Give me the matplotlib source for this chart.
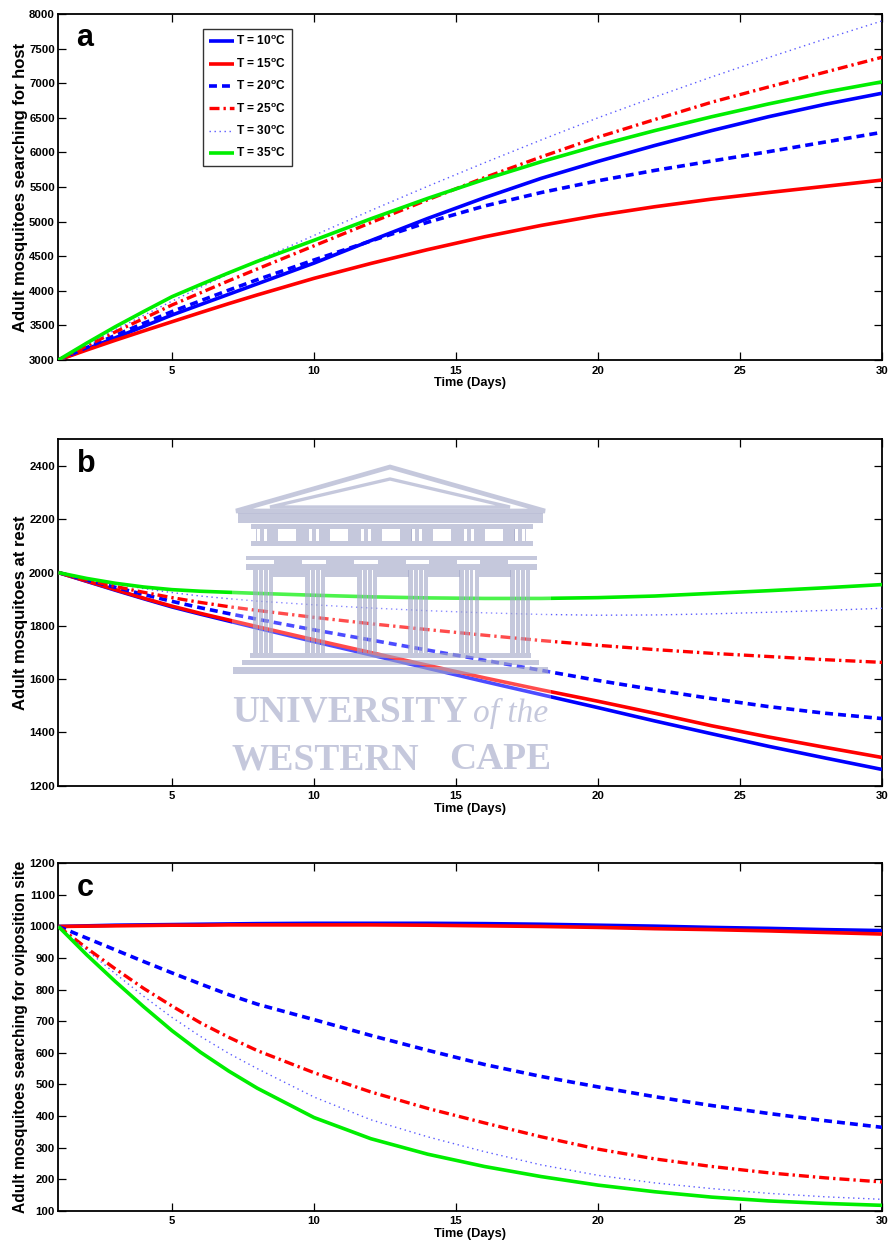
import matplotlib
matplotlib.use("Agg")
import matplotlib.pyplot as plt
from matplotlib import font_manager as fm
from matplotlib.patches import Polygon, Rectangle
import numpy as np

# ---------------------------------------------------------------- data
days = [1, 2, 3, 4, 5, 6, 7, 8, 10, 12, 14, 16, 18, 20, 22, 24, 26, 28, 30]
temps = ["10", "15", "20", "25", "30", "35"]

# (a) adult mosquitoes searching for host
host_T10 = [3000, 3160, 3320, 3485, 3650, 3800, 3950, 4100, 4400, 4725, 5045, 5345, 5625, 5870, 6100, 6315, 6515, 6695, 6855]
host_T15 = [3000, 3145, 3285, 3420, 3553, 3685, 3815, 3940, 4180, 4395, 4595, 4780, 4945, 5090, 5215, 5325, 5420, 5510, 5600]
host_T20 = [3000, 3180, 3355, 3530, 3700, 3855, 4010, 4160, 4445, 4720, 4990, 5225, 5420, 5590, 5740, 5875, 6010, 6150, 6290]
host_T25 = [3000, 3205, 3405, 3600, 3795, 3970, 4145, 4315, 4650, 4985, 5315, 5635, 5935, 6220, 6475, 6725, 6945, 7160, 7375]
host_T30 = [3000, 3220, 3435, 3645, 3850, 4050, 4245, 4435, 4800, 5160, 5510, 5850, 6180, 6500, 6800, 7090, 7370, 7640, 7900]
host_T35 = [3000, 3245, 3480, 3700, 3915, 4090, 4260, 4425, 4730, 5040, 5335, 5610, 5865, 6100, 6315, 6515, 6700, 6870, 7020]

# (b) adult mosquitoes at rest
rest_T10 = [2000, 1967, 1934, 1902, 1871, 1844, 1818, 1792, 1741, 1691, 1641, 1591, 1542, 1493, 1443, 1395, 1348, 1304, 1261]
rest_T15 = [2000, 1968, 1936, 1904, 1874, 1847, 1822, 1797, 1748, 1700, 1652, 1605, 1560, 1517, 1472, 1425, 1383, 1344, 1306]
rest_T20 = [2000, 1972, 1945, 1918, 1892, 1868, 1846, 1825, 1785, 1747, 1709, 1671, 1633, 1595, 1560, 1527, 1497, 1472, 1452]
rest_T25 = [2000, 1973, 1948, 1926, 1906, 1888, 1872, 1858, 1832, 1808, 1786, 1765, 1745, 1727, 1711, 1697, 1685, 1673, 1663]
rest_T30 = [2000, 1978, 1958, 1940, 1925, 1912, 1902, 1893, 1879, 1867, 1857, 1849, 1843, 1840, 1841, 1845, 1851, 1858, 1866]
rest_T35 = [2000, 1978, 1960, 1946, 1936, 1930, 1926, 1922, 1915, 1909, 1905, 1903, 1903, 1906, 1912, 1922, 1932, 1943, 1955]

# (c) adult mosquitoes searching for oviposition site
ovi_T10 = [1000, 1002, 1004, 1005, 1006, 1007, 1008, 1009, 1010, 1010, 1010, 1009, 1007, 1004, 1001, 997, 994, 990, 987]
ovi_T15 = [1000, 1001, 1002, 1003, 1004, 1004, 1005, 1005, 1005, 1005, 1004, 1002, 1000, 997, 993, 990, 986, 981, 976]
ovi_T20 = [1000, 963, 926, 889, 853, 818, 784, 754, 705, 655, 608, 563, 525, 492, 461, 433, 408, 385, 364]
ovi_T25 = [1000, 931, 866, 804, 748, 695, 649, 607, 537, 476, 424, 378, 334, 295, 264, 240, 220, 204, 191]
ovi_T30 = [1000, 925, 851, 779, 712, 652, 598, 550, 460, 388, 334, 287, 245, 212, 188, 170, 155, 144, 136]
ovi_T35 = [1000, 910, 826, 746, 670, 602, 542, 488, 395, 328, 279, 240, 208, 181, 160, 143, 131, 123, 117]

x_ticks = [5, 10, 15, 20, 25, 30]

# ---------------------------------------------------------------- style
installed = {f.name for f in fm.fontManager.ttflist}
SANS = "Liberation Sans Narrow" if "Liberation Sans Narrow" in installed else "Liberation Sans"
narrow = SANS == "Liberation Sans Narrow"

plt.rcParams["font.family"] = [SANS, "DejaVu Sans"]
plt.rcParams["font.weight"] = "bold"
plt.rcParams["mathtext.fontset"] = "custom"
plt.rcParams["mathtext.bf"] = SANS + ":bold"
plt.rcParams["mathtext.rm"] = SANS + ":bold"

BLUE = "#0000ff"
RED = "#ff0000"
GREEN = "#00ee00"
LIGHTBLUE = "#5a5aff"

styles = {
    "10": dict(color=BLUE, lw=2.6, ls="-"),
    "15": dict(color=RED, lw=2.6, ls="-"),
    "20": dict(color=BLUE, lw=2.6, ls=(0, (2.2, 1.4))),
    "25": dict(color=RED, lw=2.4, ls=(0, (3.0, 1.2, 0.7, 1.2))),
    "30": dict(color=LIGHTBLUE, lw=1.0, ls=(0, (1.0, 2.6))),
    "35": dict(color=GREEN, lw=2.6, ls="-"),
}

W, H = 890, 1252
fig = plt.figure(figsize=(W / 100, H / 100), dpi=100)

left = 58.4 / W
width = (882 - 58.4) / W


def ax_rect(top_px, bottom_px):
    return [left, 1 - bottom_px / H, width, (bottom_px - top_px) / H]


ax_a = fig.add_axes(ax_rect(14, 360))
ax_b = fig.add_axes(ax_rect(439.4, 785.7))
ax_c = fig.add_axes(ax_rect(863.3, 1210.7))

tick_fs = 9.2 if narrow else 8.2
xlab_fs = 10.2 if narrow else 9.2

panels = [
    (ax_a, [host_T10, host_T15, host_T20, host_T25, host_T30, host_T35],
     (3000, 8000), np.arange(3000, 8001, 500), "Adult mosquitoes searching for host", "a", 12.0),
    (ax_b, [rest_T10, rest_T15, rest_T20, rest_T25, rest_T30, rest_T35],
     (1200, 2500), np.arange(1200, 2401, 200), "Adult mosquitoes at rest", "b", 12.0),
    (ax_c, [ovi_T10, ovi_T15, ovi_T20, ovi_T25, ovi_T30, ovi_T35],
     (100, 1200), np.arange(100, 1201, 100), "Adult mosquitoes searching for oviposition site", "c", 11.2),
]

for ax, series, ylim, yticks, ylabel, letter, yl_fs in panels:
    for t, vals in zip(temps, series):
        ax.plot(days, vals, label=r"T = %s$^{\mathbf{o}}$C" % t, zorder=3,
                solid_capstyle="butt", dash_capstyle="butt", **styles[t])
    ax.set_xlim(1, 30)
    ax.set_ylim(*ylim)
    ax.set_xticks(x_ticks)
    ax.set_yticks(yticks)
    ax.tick_params(direction="in", length=6, width=0.9, top=True, right=True,
                   labelsize=tick_fs)
    ax.tick_params(axis="y", pad=2.5)
    ax.tick_params(axis="x", pad=4)
    for lab in ax.get_xticklabels() + ax.get_yticklabels():
        lab.set_fontweight("bold")
    for sp in ax.spines.values():
        sp.set_linewidth(1.3)
    ax.set_xlabel("Time (Days)", fontsize=xlab_fs, fontweight="bold", labelpad=1)
    ax.set_ylabel(ylabel, fontsize=yl_fs, fontweight="bold",
                  family=["Liberation Sans", "DejaVu Sans"])
    ax.yaxis.set_label_coords(-0.037, 0.5)
    ax.text(0.022, 0.93, letter, transform=ax.transAxes, fontsize=22,
            fontweight="bold", va="center", ha="left",
            family=["Liberation Sans", "DejaVu Sans"])

leg = ax_a.legend(loc="upper left", bbox_to_anchor=(0.1755, 0.958),
                  fontsize=9.6 if narrow else 8.6,
                  handlelength=2.1, handletextpad=0.2, labelspacing=0.72,
                  borderpad=0.5, frameon=True, fancybox=False, borderaxespad=0)
leg.get_frame().set_edgecolor("black")
leg.get_frame().set_linewidth(1.0)

# ---------------------------------------------------------------- watermark laid over panel (b)
WM = "#9fa4c6"
WA = 0.6


def fx(px):
    return px / W


def fy(py):
    return 1 - py / H


def frect(x0, y0, x1, y1, color=WM, alpha=WA, z=5):
    ax_b.add_patch(Rectangle((fx(x0), fy(y1)), fx(x1) - fx(x0), fy(y0) - fy(y1),
                             transform=fig.transFigure, facecolor=color, alpha=alpha,
                             edgecolor="none", zorder=z))


def fpoly(pts, ec=WM, lw=3, z=5):
    ax_b.add_patch(Polygon([(fx(a), fy(b)) for a, b in pts], closed=True,
                           transform=fig.transFigure, facecolor="none", alpha=WA,
                           edgecolor=ec, lw=lw, zorder=z, joinstyle="miter"))


# faint white backing of the emblem
frect(232, 465, 551, 776, color="white", alpha=0.3, z=4)
# pediment: outer and inner outlined triangles
fpoly([(236, 511), (390, 467), (545, 511)], lw=3.4)
fpoly([(270, 507), (390, 479), (510, 507)], lw=2.4)
# cornice
frect(238, 513, 543, 523)
# frieze with triglyph slits and metope openings
frect(251, 524, 533, 529)
frect(251, 541, 533, 546)
slits = []
for x0 in [256, 308, 360, 411, 463, 514]:
    slits += [(x0, x0 + 1), (x0 + 4, x0 + 8), (x0 + 11, x0 + 12)]
for a, b in slits:
    frect(a, 529, b, 541)
for x0 in [268, 320, 372, 423, 475]:
    frect(x0, 529, x0 + 10, 541)
    frect(x0 + 28, 529, x0 + 40, 541)
# architrave
frect(246, 556, 537, 560)
frect(246, 564, 537, 570)
for x0 in [274, 326, 378, 429, 480]:
    frect(x0, 560, x0 + 28, 564)
# columns with fluting
for x0 in [253, 305, 357, 408, 459, 510]:
    frect(x0, 570, x0 + 4.5, 653)
    frect(x0 + 6.1, 570, x0 + 9.5, 653)
    frect(x0 + 11.1, 570, x0 + 14.5, 653)
    frect(x0 + 16.1, 570, x0 + 20, 653)
# back wall strip between columns
for x0 in [273, 325, 377, 428, 479]:
    frect(x0, 570, x0 + 32, 577)
# steps
frect(250, 653, 531, 658)
frect(242, 660, 539, 665)
frect(233, 667, 548, 674)

serif = ["Liberation Serif", "DejaVu Serif"]
txt = dict(color=WM, alpha=WA, ha="left", va="baseline", family=serif, zorder=5)
fig.text(fx(232), fy(722), "UNIVERSITY", fontsize=27, fontweight="bold", **txt)
fig.text(fx(473), fy(722), "of the", fontsize=24, style="italic", fontweight="normal", **txt)
fig.text(fx(232), fy(769), "WESTERN", fontsize=27, fontweight="bold", **txt)
txt["ha"] = "right"
fig.text(fx(551), fy(769), "CAPE", fontsize=27, fontweight="bold", **txt)

fig.savefig("out.png", dpi=100)
